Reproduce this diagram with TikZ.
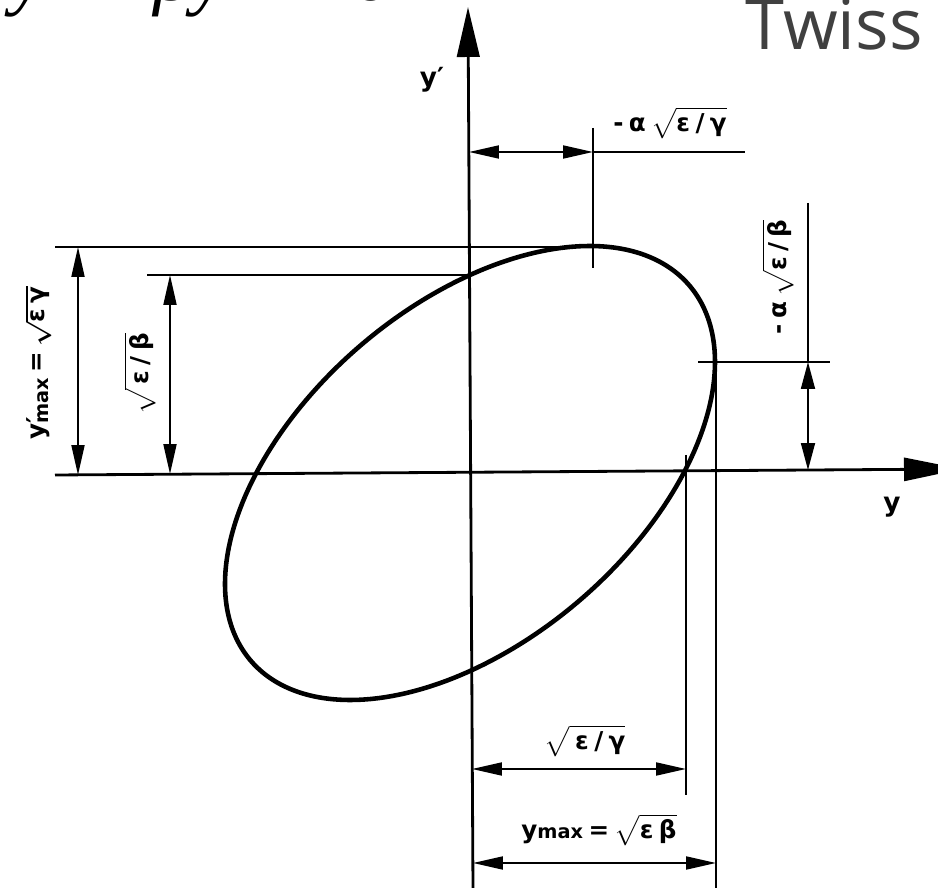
\documentclass[tikz,border=0pt]{standalone}
\usepackage{amsmath}
\usepackage{fontspec}
\newfontfamily\lblfont{DejaVu Sans}
\newfontfamily\titlefont{Open Sans}
\newfontfamily\serifit{Liberation Serif}
\usetikzlibrary{arrows.meta}
\definecolor{twissgray}{HTML}{404040}
\newcommand{\gp}{\hspace{0.22em}}
\begin{document}
\begin{tikzpicture}[x=0.02cm,y=-0.02cm,
  axisline/.style={line width=1.6pt,-{Triangle[length=1cm,width=0.45cm]}},
  rightaxis/.style={line width=1.6pt,-{Triangle[length=1.16cm,width=0.46cm]}},
  dimline/.style={line width=1.1pt,{Triangle[length=0.6cm,width=0.26cm]}-{Triangle[length=0.6cm,width=0.26cm]}},
  smalldim/.style={line width=1.0pt,{Triangle[length=0.54cm,width=0.28cm]}-{Triangle[length=0.54cm,width=0.28cm]}},
  extline/.style={line width=1.2pt},
  thinline/.style={line width=0.95pt},
  curve/.style={line width=2.6pt},
  lbl/.style={font=\lblfont\bfseries\fontsize{14}{16}\selectfont\boldmath,inner sep=0pt}]
\useasboundingbox (0,0) rectangle (938,888);
\clip (0,0) rectangle (938,888);
% cut-off formula and title
\node[anchor=south east,inner sep=0pt,font=\serifit\itshape\fontsize{44}{44}\selectfont] (eqn) at (388,18) {γy² + 2αyy′ + βy′² = ε};
\node[anchor=base east,inner sep=0pt,text=twissgray,font=\titlefont\fontsize{40}{40}\selectfont] (twiss) at (923,50) {Twiss};
% axes
\coordinate (axT) at (468,7);
\coordinate (axB) at (473,888);
\coordinate (axL) at (55,475);
\coordinate (axR) at (962,469);
\draw[axisline] (axB) -- (axT);
\draw[rightaxis] (axL) -- (axR);
\node[lbl,font=\lblfont\bfseries\fontsize{15}{15}\selectfont] (yplbl) at (432,80) {y′};
\node[lbl,font=\lblfont\bfseries\fontsize{15}{15}\selectfont] (ylbl) at (892,507) {y};
% ellipse
\draw[curve] plot[domain=0:358,samples=180,smooth cycle] ({470+245*cos(\x)},{473-(111*cos(\x)+198*sin(\x))});
% key points
\coordinate (topE) at (591,247);
\coordinate (rightE) at (716,362);
\coordinate (ypI) at (470,275);
\coordinate (yI) at (686,473);
% extension lines
\coordinate (e1) at (55,247);
\coordinate (e2) at (147,275);
\draw[extline] (e1) -- (topE);
\draw[extline] (e2) -- (ypI);
\coordinate (t1a) at (593,128);
\coordinate (t1b) at (593,268);
\draw[thinline] (t1a) -- (t1b);
\coordinate (d1a) at (469,152);
\coordinate (d1b) at (593,152);
\coordinate (d1c) at (745,152);
\draw[dimline] (d1a) -- (d1b);
\draw[extline] (d1b) -- (d1c);
% left vertical dims
\coordinate (d2a) at (78,247);
\coordinate (d2b) at (78,475);
\draw[dimline] (d2a) -- (d2b);
\coordinate (d3a) at (170,275);
\coordinate (d3b) at (170,474);
\draw[dimline] (d3a) -- (d3b);
% right side
\coordinate (r1) at (698,362);
\coordinate (r2) at (830,362);
\draw[extline] (r1) -- (r2);
\coordinate (r3) at (808,203);
\coordinate (r4) at (808,362);
\coordinate (r5) at (808,470);
\draw[thinline] (r3) -- (r4);
\draw[smalldim] (r4) -- (r5);
% bottom verticals
\coordinate (v1a) at (716,362);
\coordinate (v1b) at (716,888);
\draw[thinline] (v1a) -- (v1b);
\coordinate (v2a) at (686,455);
\coordinate (v2b) at (686,795);
\draw[thinline] (v2a) -- (v2b);
\coordinate (b1a) at (472,769);
\coordinate (b1b) at (686,769);
\draw[dimline] (b1a) -- (b1b);
\coordinate (b2a) at (473,863);
\coordinate (b2b) at (716,863);
\draw[dimline] (b2a) -- (b2b);
% labels
\node[lbl] (l1) at (670,123) {-\gp α\gp$\sqrt{\text{ε\gp/\gp γ}}$};
\node[lbl,rotate=90] (l2) at (38,363) {y\rlap{′}\raisebox{-0.3ex}{\fontsize{11}{11}\selectfont max}\gp=\gp$\sqrt{\text{ε\gp γ}}$};
\node[lbl,rotate=90] (l3) at (140,374) {$\sqrt{\text{\gp ε\gp/\gp β}}$};
\node[lbl,rotate=90] (l4) at (778,277) {-\gp α\gp$\sqrt{\text{ε\gp/\gp β}}$};
\node[lbl] (l5) at (585,741) {$\sqrt{\text{\gp ε\gp/\gp γ}}$};
\node[lbl] (l6) at (599,830) {y{\fontsize{11}{11}\selectfont max}\gp=\gp$\sqrt{\text{ε\gp β}}$};
\end{tikzpicture}
\end{document}
